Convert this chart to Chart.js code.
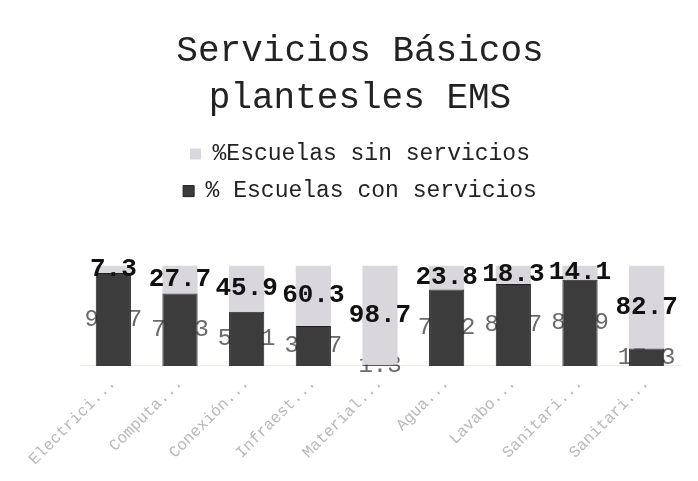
<!DOCTYPE html>
<html>
<head>
<meta charset="utf-8">
<script src="https://cdn.jsdelivr.net/npm/chart.js@4/dist/chart.umd.min.js"></script>
<style>
  html, body { margin: 0; padding: 0; background: #ffffff; }
  #wrap { width: 698px; height: 481px; }
</style>
</head>
<body>
<div id="wrap"><canvas id="c" width="698" height="481"></canvas></div>
<script>
const categories = ["Electrici...", "Computa...", "Conexión...", "Infraest...", "Material...", "Agua...", "Lavabo...", "Sanitari...", "Sanitari..."];
const conServicios = [92.7, 72.3, 54.1, 39.7, 1.3, 76.2, 81.7, 85.9, 17.3];
const sinServicios = [7.3, 27.7, 45.9, 60.3, 98.7, 23.8, 18.3, 14.1, 82.7];
const seriesNames = ["% Escuelas con servicios", "%Escuelas sin servicios"];
const titleLines = ["Servicios Básicos", "plantesles EMS"];

const MONO = "'Liberation Mono', 'DejaVu Sans Mono', monospace";

const legendSpace = {
  id: 'legendSpace',
  beforeInit(chart) {
    const orig = chart.legend.fit;
    chart.legend.fit = function () {
      orig.bind(chart.legend)();
      this.height += 53;
    };
  }
};

function drawLabels(chart, dsIndex, font, color) {
  const ctx = chart.ctx;
  const meta = chart.getDatasetMeta(dsIndex);
  const data = chart.data.datasets[dsIndex].data;
  ctx.save();
  ctx.font = font;
  ctx.fillStyle = color;
  ctx.textAlign = 'center';
  ctx.textBaseline = 'middle';
  meta.data.forEach((bar, i) => {
    const y = (bar.y + bar.base) / 2;
    ctx.fillText(data[i].toFixed(1), bar.x, y);
  });
  ctx.restore();
}

const valueLabels = {
  id: 'valueLabels',
  beforeDatasetsDraw(chart) {
    drawLabels(chart, 0, "24px " + MONO, "#6a6a6a");
  },
  afterDatasetsDraw(chart) {
    drawLabels(chart, 1, "bold 26px " + MONO, "#111111");
  }
};

new Chart(document.getElementById('c'), {
  type: 'bar',
  data: {
    labels: categories,
    datasets: [
      {
        label: seriesNames[0],
        data: conServicios,
        backgroundColor: '#3c3c3c',
        borderColor: '#1e1e1e',
        borderWidth: 1,
        barPercentage: 0.66,
        categoryPercentage: 0.8
      },
      {
        label: seriesNames[1],
        data: sinServicios,
        backgroundColor: '#dad7dc',
        borderColor: '#dad7dc',
        borderWidth: 0,
        barPercentage: 0.66,
        categoryPercentage: 0.8
      }
    ]
  },
  options: {
    responsive: false,
    devicePixelRatio: 1,
    animation: false,
    layout: { padding: { left: 40, right: 18, top: 28, bottom: 12 } },
    plugins: {
      tooltip: { enabled: false },
      title: {
        display: true,
        text: titleLines,
        color: '#222222',
        font: { family: MONO, size: 36, weight: 'normal', lineHeight: 1.3 },
        padding: { top: 0, bottom: 7 }
      },
      legend: {
        display: true,
        position: 'top',
        reverse: true,
        labels: {
          color: '#222222',
          font: { family: MONO, size: 23 },
          boxWidth: 11,
          boxHeight: 11,
          padding: 14
        }
      }
    },
    scales: {
      x: {
        stacked: true,
        grid: { display: false },
        border: { display: true, color: '#ecece4' },
        ticks: {
          color: '#b8b8b8',
          font: { family: MONO, size: 16 },
          maxRotation: 45,
          minRotation: 45,
          autoSkip: false,
          padding: 0
        }
      },
      y: {
        stacked: true,
        display: true,
        min: 0,
        max: 100,
        grid: { display: false },
        border: { display: false },
        ticks: { display: false },
        afterFit(scale) { scale.width = 40; }
      }
    }
  },
  plugins: [legendSpace, valueLabels]
});
</script>
</body>
</html>
